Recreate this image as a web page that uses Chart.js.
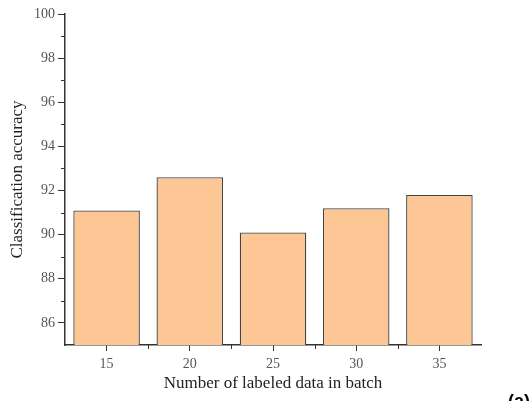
<!DOCTYPE html>
<html>
<head>
<meta charset="utf-8">
<script src="https://cdn.jsdelivr.net/npm/chart.js@4.4.1/dist/chart.umd.min.js"></script>
<style>
  html, body { margin: 0; padding: 0; background: #fff; }
  #wrap { width: 530px; height: 401px; }
</style>
</head>
<body>
<div id="wrap"><canvas id="chart" width="530" height="401"></canvas></div>
<script>
// data
const batchSizes = ["15", "20", "25", "30", "35"];
const accuracy = [91.1, 92.6, 90.1, 91.2, 91.8];
const yMin = 85, yMax = 100, yStep = 2;

const axisColor = "#333";
const labelFont = { family: "'Liberation Serif', 'DejaVu Serif', serif", size: 14 };
const titleFont = { family: "'Liberation Serif', 'DejaVu Serif', serif", size: 17 };

// minor ticks on both axes + panel tag
const extras = {
  id: "extras",
  afterDraw(chart) {
    const ctx = chart.ctx;
    const x = chart.scales.x, y = chart.scales.y;
    const area = chart.chartArea;
    ctx.save();
    ctx.strokeStyle = axisColor;
    ctx.lineWidth = 1;
    // y minor ticks at odd values
    for (let v = yMin + 2; v < yMax; v += 2) {
      const py = Math.round(y.getPixelForValue(v)) + 0.5;
      ctx.beginPath();
      ctx.moveTo(area.left - 4, py);
      ctx.lineTo(area.left, py);
      ctx.stroke();
    }
    // x minor ticks at category boundaries
    const half = (x.getPixelForValue(1) - x.getPixelForValue(0)) / 2;
    for (let i = 0; i < batchSizes.length - 1; i++) {
      const px = Math.round(x.getPixelForValue(i) + half) + 0.5;
      ctx.beginPath();
      ctx.moveTo(px, area.bottom);
      ctx.lineTo(px, area.bottom + 4);
      ctx.stroke();
    }
    ctx.fillStyle = "#000";
    ctx.font = "bold 18px 'Liberation Sans', Arial, sans-serif";
    ctx.textBaseline = "top";
    ctx.fillText("(a)", 508, 393);
    ctx.restore();
  }
};

new Chart(document.getElementById("chart"), {
  type: "bar",
  data: {
    labels: batchSizes,
    datasets: [{
      data: accuracy,
      backgroundColor: "#fdc795",
      borderColor: "#444",
      borderWidth: 1.3,
      borderSkipped: false,
      barPercentage: 0.8,
      categoryPercentage: 1.0
    }]
  },
  options: {
    responsive: false,
    animation: false,
    layout: { padding: { left: 0, top: 14, right: 49, bottom: 0 } },
    plugins: { legend: { display: false }, tooltip: { enabled: false } },
    scales: {
      x: {
        afterFit: s => { s.height = 56; },
        grid: { display: true, drawOnChartArea: false, offset: false, tickLength: 6, tickColor: axisColor },
        border: { display: true, color: axisColor, width: 1.5 },
        ticks: { color: "#555", font: labelFont, padding: 5 },
        title: {
          display: true, text: "Number of labeled data in batch",
          color: "#222", font: titleFont, padding: { top: 4, bottom: 7 }
        }
      },
      y: {
        min: yMin, max: yMax,
        afterFit: s => { s.width = 65; },
        afterBuildTicks: s => { s.ticks = s.ticks.filter(t => t.value % yStep === 0); },
        grid: { display: true, drawOnChartArea: false, tickLength: 7, tickColor: axisColor },
        border: { display: true, color: axisColor, width: 1.5 },
        ticks: { stepSize: yStep, color: "#555", font: labelFont, padding: 3 },
        title: {
          display: true, text: "Classification accuracy",
          color: "#222", font: titleFont, padding: { top: 7, bottom: 4 }
        }
      }
    }
  },
  plugins: [extras]
});
</script>
</body>
</html>
